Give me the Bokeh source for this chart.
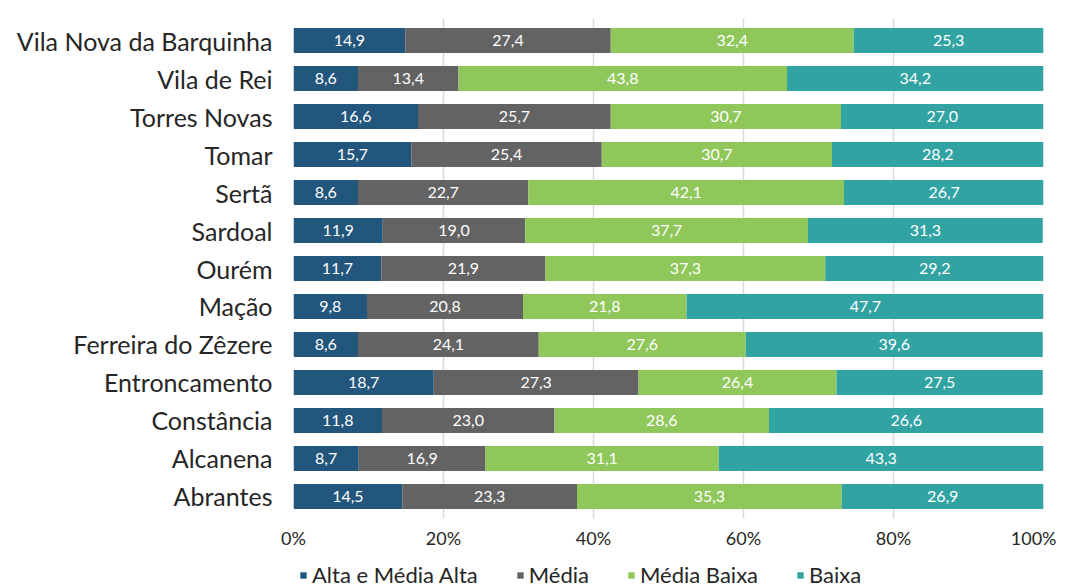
import numpy as np
from bokeh.plotting import figure
from bokeh.models import (ColumnDataSource, LabelSet, FixedTicker, Legend, LegendItem,
                          PrintfTickFormatter, FactorRange, Range1d)
from bokeh.layouts import column
from bokeh.core.properties import value
from bokeh.embed import file_html
from bokeh.resources import INLINE

municipios = ["Vila Nova da Barquinha", "Vila de Rei", "Torres Novas", "Tomar", "Sertã",
              "Sardoal", "Ourém", "Mação", "Ferreira do Zêzere", "Entroncamento",
              "Constância", "Alcanena", "Abrantes"]
alta = [14.9, 8.6, 16.6, 15.7, 8.6, 11.9, 11.7, 9.8, 8.6, 18.7, 11.8, 8.7, 14.5]
media = [27.4, 13.4, 25.7, 25.4, 22.7, 19.0, 21.9, 20.8, 24.1, 27.3, 23.0, 16.9, 23.3]
media_baixa = [32.4, 43.8, 30.7, 30.7, 42.1, 37.7, 37.3, 21.8, 27.6, 26.4, 28.6, 31.1, 35.3]
baixa = [25.3, 34.2, 27.0, 28.2, 26.7, 31.3, 29.2, 47.7, 39.6, 27.5, 36.6, 43.3, 26.9]
# rótulos tal como impressos no gráfico original (Constância mostra "26,6")
baixa_rotulos = ["25,3", "34,2", "27,0", "28,2", "26,7", "31,3", "29,2", "47,7", "39,6",
                 "27,5", "26,6", "43,3", "26,9"]
series_names = ["Alta e Média Alta", "Média", "Média Baixa", "Baixa"]
colors = ["#22567c", "#636363", "#8fc75b", "#32a3a3"]
x_ticks = [0, 20, 40, 60, 80, 100]

FONT = "Lato"

p = figure(width=1056, height=552, output_backend="svg", toolbar_location=None,
           y_range=FactorRange(factors=list(reversed(municipios)), range_padding=0.08,
                               range_padding_units="absolute"),
           x_range=(0, 100), min_border_left=293, min_border_right=13,
           min_border_top=18, min_border_bottom=34)

series = [alta, media, media_baixa, baixa]
fmt = lambda vs: [f"{v:.1f}".replace(".", ",") for v in vs]
textos = [fmt(alta), fmt(media), fmt(media_baixa), baixa_rotulos]
left = np.zeros(len(municipios))
for name, vals, col, txt in zip(series_names, series, colors, textos):
    vals = np.array(vals)
    right = left + vals
    src = ColumnDataSource(dict(
        y=municipios, left=left, right=right, mid=(left + right) / 2, txt=txt))
    p.hbar(y="y", left="left", right="right", height=0.66, source=src,
           fill_color=col, line_color=None)
    p.add_layout(LabelSet(x="mid", y="y", text="txt", source=src, text_align="center",
                          text_baseline="middle", text_color="white",
                          text_font=value(FONT), text_font_size="16px"))
    left = right

p.outline_line_color = None
p.background_fill_color = "white"
p.ygrid.grid_line_color = None
p.xgrid.grid_line_color = "#d9d9d9"
p.xgrid.grid_line_width = 1.5
p.xaxis.ticker = FixedTicker(ticks=x_ticks)
p.xaxis.formatter = PrintfTickFormatter(format="%d%%")
for ax in (p.xaxis, p.yaxis):
    ax.axis_line_color = None
    ax.major_tick_line_color = None
    ax.minor_tick_line_color = None
    ax.major_tick_out = 0
    ax.major_tick_in = 0
    ax.major_label_text_font = FONT
    ax.major_label_text_color = "#262626"
p.xaxis.major_label_text_font_size = "18px"
p.xaxis.major_label_standoff = 8
p.yaxis.major_label_text_font_size = "25px"
p.yaxis.major_label_standoff = 21

# faixa da legenda (figura própria, sem eixos; quadro alinhado com o do gráfico)
leg_fig = figure(width=1056, height=36, output_backend="svg", toolbar_location=None,
                 x_range=Range1d(0, 1), y_range=Range1d(0, 1),
                 x_axis_type=None, y_axis_type=None,
                 min_border_left=0, min_border_right=0, min_border_top=0,
                 min_border_bottom=0)
leg_fig.outline_line_color = None
leg_fig.grid.visible = False
items = []
for name, col in zip(series_names, colors):
    # marca substituta fora da área visível, só para desenhar o quadrado da legenda
    r = leg_fig.hbar(y=[-1], left=[0], right=[1], height=0.5, fill_color=col,
                     line_color=None)
    items.append(LegendItem(label=name, renderers=[r]))
legend = Legend(items=items, orientation="horizontal", location=(6, 0),
                glyph_width=8, glyph_height=8, label_standoff=5, spacing=38,
                label_text_font=FONT, label_text_font_size="22px", label_height=20,
                label_text_color="#262626", padding=0, margin=0,
                border_line_color=None, background_fill_alpha=0)
leg_fig.add_layout(legend, "center")

layout = column(p, leg_fig, spacing=0)
open("out.html", "w").write(file_html(layout, INLINE))
